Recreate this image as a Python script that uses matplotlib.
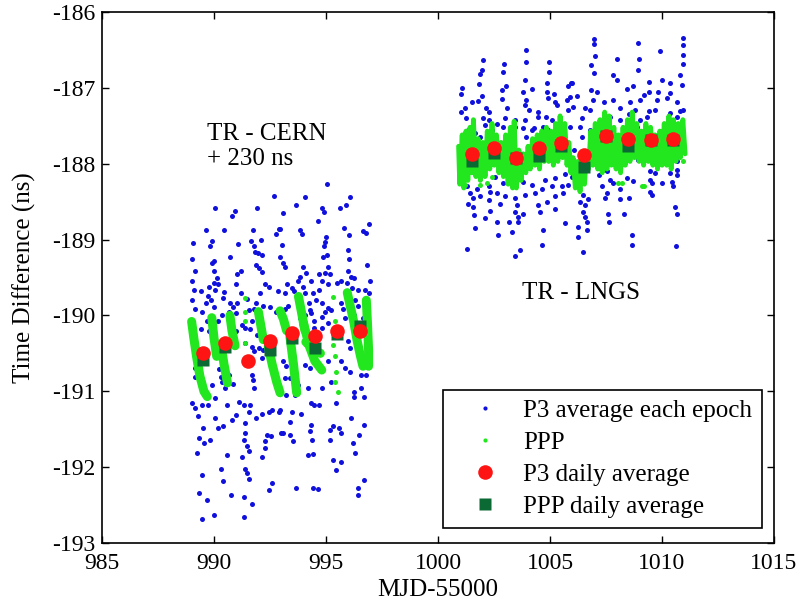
import numpy as np
import matplotlib
matplotlib.use('Agg')
import matplotlib.pyplot as plt
from matplotlib.lines import Line2D

plt.rcParams['font.family'] = ['Liberation Serif', 'DejaVu Serif']
plt.rcParams['axes.unicode_minus'] = False

# ---- P3 average each epoch ----
p3_cern = [
    (992.66, -188.42), (990.06, -188.58), (990.92, -188.63), (990.81, -188.69), (991.93, -188.58),
    (989.65, -188.88), (990.45, -188.88), (989.05, -189.04), (989.91, -189.02), (989.80, -189.08),
    (991.06, -189.06), (991.74, -188.88), (991.65, -189.02), (992.10, -189.01), (992.89, -188.86),
    (992.78, -188.93), (991.79, -189.09), (991.83, -189.16), (991.97, -189.18), (992.12, -189.21),
    (989.02, -189.26), (990.02, -189.28), (989.91, -189.31), (990.71, -189.23), (991.86, -189.33),
    (992.03, -189.38), (992.15, -189.43), (989.99, -189.41), (989.17, -189.42), (991.03, -189.46),
    (991.19, -189.42), (990.13, -189.51), (990.02, -189.57), (989.00, -189.55), (990.20, -189.59),
    (989.77, -189.62), (990.96, -189.59), (992.26, -189.59), (992.47, -189.62), (989.10, -189.66),
    (989.43, -189.68), (990.06, -189.66), (990.45, -189.69), (991.22, -189.70), (989.73, -189.74),
    (989.87, -189.80), (989.65, -189.84), (990.38, -189.77), (991.47, -189.79), (992.05, -189.70),
    (991.86, -189.84), (992.18, -189.87), (989.02, -189.80), (989.17, -189.91), (989.46, -189.96),
    (989.99, -189.89), (990.71, -189.84), (990.84, -189.89), (991.03, -189.84), (990.67, -189.95),
    (990.35, -190.00), (990.96, -189.97), (991.54, -189.93), (991.79, -189.91), (992.51, -189.89),
    (992.75, -189.95), (989.70, -190.08), (989.84, -190.04), (990.20, -190.07), (990.67, -190.08),
    (991.71, -190.08), (991.25, -190.12), (991.39, -190.17), (989.10, -190.21), (991.61, -190.18),
    (991.93, -190.26), (989.40, -190.18), (989.77, -190.21), (990.96, -190.21), (990.81, -190.34),
    (990.06, -190.34), (991.71, -190.41), (991.79, -190.47), (992.12, -190.56), (992.19, -190.45),
    (992.00, -190.43), (991.39, -190.37), (989.17, -190.69), (989.14, -190.81), (990.23, -190.70),
    (990.32, -190.81), (989.60, -190.63), (990.35, -190.88), (990.67, -190.78), (991.71, -190.78),
    (991.74, -190.85), (989.91, -190.92), (990.84, -190.90), (991.79, -190.96), (990.49, -190.96),
    (990.06, -191.09), (991.10, -191.14), (989.00, -191.16), (989.17, -191.22), (989.46, -191.18),
    (989.74, -191.18), (990.57, -191.18), (991.32, -191.18), (991.61, -191.18), (991.54, -191.27),
    (990.96, -191.31), (990.81, -191.38), (992.15, -191.30), (992.47, -191.27), (992.61, -191.25),
    (992.92, -191.27), (989.29, -191.33), (990.06, -191.35), (991.86, -191.35), (989.53, -191.49),
    (990.20, -191.48), (990.42, -191.46), (991.39, -191.42), (991.39, -191.55), (992.37, -191.57),
    (992.55, -191.59), (989.31, -191.61), (989.80, -191.64), (989.56, -191.68), (991.32, -191.64),
    (992.29, -191.66), (992.26, -191.75), (991.47, -191.72), (991.54, -191.79), (989.24, -191.82),
    (990.57, -191.84), (991.25, -191.86), (992.15, -191.86), (992.97, -191.55), (990.32, -192.02),
    (991.39, -192.02), (991.47, -192.08), (989.46, -192.10), (990.42, -192.18), (991.54, -192.16),
    (992.58, -192.21), (992.44, -192.30), (989.31, -192.34), (990.74, -192.37), (991.32, -192.40),
    (989.70, -192.43), (991.71, -192.49), (989.99, -192.63), (989.46, -192.69), (991.32, -192.66),
    (995.06, -188.27), (994.08, -188.44), (996.06, -188.44), (993.66, -188.54), (994.80, -188.58),
    (995.64, -188.58), (995.91, -188.54), (993.06, -188.65), (994.92, -188.64), (994.66, -188.76),
    (992.93, -188.86), (993.83, -188.88), (993.93, -188.93), (995.81, -188.85), (996.01, -188.94),
    (996.64, -188.89), (996.90, -188.79), (996.78, -188.92), (995.02, -188.96), (994.95, -189.03),
    (993.03, -189.07), (994.92, -189.09), (995.98, -189.14), (996.01, -189.25), (995.06, -189.20),
    (994.88, -189.23), (996.84, -189.33), (992.93, -189.23), (993.08, -189.31), (993.18, -189.36),
    (993.98, -189.36), (995.09, -189.36), (994.95, -189.44), (995.17, -189.46), (995.98, -189.42),
    (996.13, -189.49), (994.12, -189.44), (993.83, -189.49), (993.76, -189.54), (993.27, -189.59),
    (993.47, -189.64), (994.34, -189.54), (994.70, -189.46), (994.80, -189.54), (995.67, -189.54),
    (995.50, -189.57), (995.95, -189.57), (996.27, -189.51), (996.95, -189.54), (996.16, -189.64),
    (996.42, -189.66), (996.74, -189.66), (996.90, -189.71), (992.86, -189.68), (993.15, -189.70),
    (993.58, -189.68), (993.98, -189.62), (994.05, -189.70), (994.41, -189.70), (994.70, -189.66),
    (995.09, -189.59), (994.56, -189.80), (994.22, -189.84), (994.80, -189.84), (994.27, -189.93),
    (994.34, -189.97), (994.08, -190.00), (995.09, -189.90), (995.24, -189.93), (994.95, -189.95),
    (994.80, -190.02), (993.29, -189.87), (993.15, -189.91), (992.93, -189.95), (995.67, -189.84),
    (995.75, -189.91), (996.30, -189.80), (996.45, -189.87), (996.78, -189.89), (993.83, -190.04),
    (994.48, -190.08), (995.09, -190.10), (995.84, -190.04), (996.27, -190.00), (996.64, -190.04),
    (994.48, -190.17), (994.80, -190.17), (995.98, -190.34), (996.06, -190.43), (996.87, -190.43),
    (993.08, -190.60), (993.22, -190.67), (994.05, -190.66), (994.27, -190.69), (995.09, -190.60),
    (995.67, -190.60), (995.84, -190.69), (996.06, -190.74), (996.56, -190.78), (996.78, -190.78),
    (993.15, -190.83), (993.41, -190.83), (993.76, -190.92), (994.19, -190.96), (994.80, -190.96),
    (995.24, -190.88), (993.22, -191.05), (993.61, -191.05), (994.34, -191.16), (994.48, -191.18),
    (994.70, -191.18), (995.46, -191.16), (996.27, -191.01), (996.56, -190.96), (996.71, -191.07),
    (996.24, -191.08), (992.93, -191.25), (993.47, -191.27), (993.88, -191.30), (996.13, -191.35),
    (993.37, -191.40), (994.31, -191.45), (995.17, -191.51), (995.31, -191.46), (995.60, -191.48),
    (994.27, -191.53), (993.08, -191.55), (993.37, -191.57), (994.37, -191.64), (993.51, -191.66),
    (995.17, -191.64), (995.67, -191.55), (996.20, -191.68), (996.68, -191.45), (996.49, -191.57),
    (996.30, -191.81), (994.19, -191.84), (994.41, -191.83), (995.31, -191.91), (995.67, -191.93),
    (995.46, -192.04), (996.68, -192.17), (993.66, -192.28), (994.41, -192.27), (994.66, -192.29),
    (996.42, -192.27), (996.42, -192.37),
]

p3_lngs = [
    (1003.95, -186.50), (1002.00, -186.63), (1002.95, -186.68), (1003.95, -186.66), (1004.95, -186.66),
    (1001.97, -186.77), (1001.87, -186.82), (1002.91, -186.79), (1004.95, -186.79), (1001.07, -187.00),
    (1001.82, -186.95), (1003.03, -186.98), (1003.87, -186.90), (1004.85, -186.93), (1005.93, -186.93),
    (1001.04, -187.08), (1004.19, -187.02), (1002.84, -187.03), (1003.80, -187.05), (1004.85, -187.05),
    (1005.17, -187.08), (1005.82, -186.98), (1001.97, -187.11), (1001.77, -187.17), (1001.50, -187.18),
    (1002.84, -187.15), (1003.95, -187.16), (1004.92, -187.14), (1005.24, -187.18), (1005.75, -187.16),
    (1005.89, -187.12), (1001.19, -187.26), (1001.04, -187.32), (1002.14, -187.27), (1002.26, -187.32),
    (1003.08, -187.27), (1003.87, -187.23), (1004.05, -187.29), (1004.48, -187.32), (1004.80, -187.38),
    (1005.31, -187.23), (1005.82, -187.29), (1001.24, -187.40), (1002.00, -187.40), (1002.26, -187.42),
    (1003.00, -187.40), (1003.44, -187.42), (1003.87, -187.42), (1004.45, -187.39), (1005.09, -187.42),
    (1002.09, -187.49), (1002.62, -187.47), (1002.91, -187.51), (1003.44, -187.51), (1004.27, -187.53),
    (1004.70, -187.51), (1005.24, -187.53), (1001.36, -187.55), (1001.65, -187.60), (1001.87, -187.65),
    (1002.43, -187.55), (1003.37, -187.58), (1003.80, -187.53), (1004.19, -187.55), (1004.92, -187.55),
    (1005.89, -187.52), (1001.07, -187.69), (1003.15, -187.65), (1003.95, -187.65), (1004.34, -187.69),
    (1004.85, -187.69), (1005.82, -187.74), (1006.05, -187.82), (1001.00, -187.91), (1001.07, -188.21),
    (1001.29, -188.30), (1001.72, -188.34), (1002.26, -188.30), (1002.55, -188.17), (1002.91, -188.26),
    (1003.29, -188.30), (1003.80, -188.24), (1004.19, -188.28), (1004.77, -188.21), (1005.24, -188.19),
    (1005.67, -188.13), (1005.96, -188.17), (1001.43, -188.39), (1001.58, -188.45), (1001.87, -188.43),
    (1002.33, -188.37), (1002.62, -188.39), (1003.00, -188.43), (1003.44, -188.45), (1003.87, -188.41),
    (1004.34, -188.39), (1004.63, -188.34), (1005.09, -188.30), (1005.53, -188.30), (1005.82, -188.28),
    (1001.36, -188.53), (1001.58, -188.57), (1002.26, -188.48), (1002.77, -188.53), (1003.51, -188.55),
    (1004.48, -188.55), (1004.85, -188.50), (1005.24, -188.43), (1005.60, -188.39), (1001.62, -188.68),
    (1002.33, -188.62), (1003.44, -188.64), (1003.58, -188.70), (1003.80, -188.66), (1004.56, -188.64),
    (1005.24, -188.60), (1002.11, -188.72), (1003.58, -188.77), (1001.65, -188.85), (1002.62, -188.77),
    (1003.18, -188.77), (1004.70, -188.87), (1005.67, -188.78), (1002.67, -188.94), (1003.32, -188.90),
    (1001.30, -189.13), (1003.66, -189.14), (1003.44, -189.22), (1004.66, -189.07),
    (1006.95, -186.35), (1006.95, -186.42), (1010.95, -186.34), (1010.95, -186.44), (1008.94, -186.41),
    (1009.90, -186.51), (1007.03, -186.58), (1006.85, -186.70), (1007.97, -186.62), (1008.98, -186.62),
    (1010.95, -186.57), (1010.95, -186.68), (1006.95, -186.80), (1007.82, -186.83), (1008.94, -186.76),
    (1007.97, -186.90), (1005.96, -186.93), (1009.98, -186.90), (1010.80, -186.83), (1010.37, -186.94),
    (1007.10, -187.05), (1006.85, -187.03), (1008.43, -187.01), (1008.72, -186.98), (1009.44, -186.92),
    (1009.40, -187.05), (1009.18, -187.09), (1009.83, -187.05), (1010.37, -187.07), (1010.88, -186.96),
    (1006.20, -187.11), (1006.03, -187.25), (1006.92, -187.16), (1007.39, -187.18), (1007.82, -187.16),
    (1008.58, -187.18), (1009.01, -187.16), (1009.76, -187.16), (1010.22, -187.14), (1010.66, -187.18),
    (1010.80, -187.31), (1010.95, -187.29), (1006.56, -187.27), (1006.78, -187.29), (1008.14, -187.27),
    (1008.80, -187.29), (1009.40, -187.31), (1009.69, -187.29), (1008.51, -187.35), (1006.42, -187.40),
    (1007.68, -187.38), (1008.14, -187.42), (1009.01, -187.42), (1009.32, -187.38), (1010.37, -187.33),
    (1010.66, -187.38), (1006.34, -187.51), (1006.78, -187.55), (1008.29, -187.53), (1008.87, -187.51),
    (1006.42, -187.65), (1007.68, -187.89), (1008.94, -187.95), (1009.47, -187.91), (1009.76, -187.97),
    (1010.22, -187.99), (1010.66, -187.97), (1009.47, -188.10), (1009.69, -188.12), (1010.37, -188.12),
    (1010.66, -188.08), (1007.53, -188.10), (1007.17, -188.15), (1007.68, -188.21), (1008.43, -188.19),
    (1008.72, -188.23), (1006.20, -188.17), (1009.47, -188.21), (1009.54, -188.26), (1009.98, -188.26),
    (1010.44, -188.24), (1010.66, -188.15), (1007.32, -188.30), (1007.53, -188.39), (1007.82, -188.26),
    (1008.14, -188.34), (1009.47, -188.37), (1009.54, -188.41), (1010.51, -188.30), (1006.49, -188.41),
    (1006.34, -188.50), (1006.56, -188.55), (1006.71, -188.47), (1007.46, -188.45), (1008.14, -188.47),
    (1008.51, -188.45), (1006.49, -188.64), (1006.56, -188.70), (1006.63, -188.77), (1007.61, -188.66),
    (1008.29, -188.66), (1010.59, -188.57), (1010.66, -188.66), (1007.65, -188.77), (1006.27, -188.83),
    (1006.23, -188.96), (1006.63, -188.87), (1008.65, -188.94), (1008.65, -189.07), (1006.46, -189.16),
    (1010.63, -189.09),
]

# ---- PPP (green) ----
ppp_cern_segments = [
    [(989.00, -190.08), (989.10, -190.30), (989.22, -190.54), (989.37, -190.80), (989.55, -191.00), (989.70, -191.07)],
    [(989.90, -190.03), (990.00, -190.30), (990.12, -190.54)],
    [(990.34, -190.45), (990.45, -190.65), (990.60, -190.89)],
    [(990.71, -190.00), (990.80, -190.20), (990.94, -190.40)],
    [(991.98, -189.95), (992.10, -190.15), (992.20, -190.32)],
    [(992.42, -190.41), (992.60, -190.65), (992.80, -190.88), (992.95, -191.02)],
    [(992.95, -189.94), (993.10, -190.05), (993.24, -190.20)],
    [(993.39, -190.28), (993.55, -190.65), (993.69, -191.02)],
    [(993.77, -189.75), (993.90, -189.95), (994.06, -190.20)],
    [(993.99, -190.10), (994.25, -190.40), (994.50, -190.60), (994.81, -190.72)],
    [(994.10, -190.35), (994.45, -190.45), (994.75, -190.50)],
    [(995.95, -189.70), (996.10, -189.90), (996.25, -190.10), (996.40, -190.35), (996.55, -190.55), (996.65, -190.67)],
    [(996.80, -189.80), (996.85, -190.10), (996.90, -190.45), (996.90, -190.67)],
]

ppp_lngs_x = [
    1000.92, 1000.97, 1001.08, 1001.15, 1001.25, 1001.33, 1001.43, 1001.51, 1001.58, 1001.69,
    1001.79, 1001.89, 1002.00, 1002.10, 1002.20, 1002.31, 1002.41, 1002.51, 1002.61, 1002.72,
    1002.82, 1002.92, 1003.02, 1003.13, 1003.23, 1003.33, 1003.40, 1003.50, 1003.61, 1003.71,
    1003.81, 1003.92, 1004.02, 1004.12, 1004.22, 1004.33, 1004.43, 1004.53, 1004.63, 1004.74,
    1004.84, 1004.94, 1005.04, 1005.15, 1005.25, 1005.35, 1005.45, 1005.56, 1005.66, 1005.76,
    1005.84, 1005.93, 1006.03, 1006.13, 1006.23, 1006.34, 1006.44, 1006.54, 1006.61, 1006.72,
    1006.82, 1006.92, 1007.02, 1007.13, 1007.23, 1007.33, 1007.44, 1007.54, 1007.64, 1007.74,
    1007.85, 1007.95, 1008.05, 1008.15, 1008.26, 1008.36, 1008.46, 1008.57, 1008.67, 1008.77,
    1008.87, 1008.98, 1009.08, 1009.18, 1009.28, 1009.39, 1009.49, 1009.59, 1009.69, 1009.80,
    1009.90, 1010.00, 1010.10, 1010.21, 1010.31, 1010.41, 1010.51, 1010.62, 1010.72, 1010.82,
    1010.93, 1011.03,
]
ppp_lngs_y = [
    -187.77, -188.27, -187.62, -188.32, -187.57, -188.22, -187.52, -188.12, -187.42, -188.17,
    -187.67, -188.22, -187.72, -188.17, -187.57, -188.07, -187.47, -188.02, -187.62, -188.12,
    -187.72, -188.17, -187.62, -188.27, -187.52, -188.32, -187.44, -188.32, -187.82, -188.22,
    -187.87, -188.12, -187.77, -188.07, -187.67, -188.02, -187.62, -188.07, -187.57, -187.97,
    -187.52, -187.97, -187.57, -188.02, -187.47, -187.97, -187.37, -187.92, -187.47, -188.02,
    -187.72, -188.12, -187.92, -188.32, -187.97, -188.37, -187.97, -188.27, -187.92, -188.07,
    -187.57, -188.02, -187.47, -188.07, -187.42, -188.12, -187.32, -188.07, -187.37, -188.02,
    -187.52, -188.07, -187.62, -188.12, -187.52, -188.02, -187.42, -187.97, -187.32, -187.92,
    -187.47, -187.97, -187.57, -188.02, -187.47, -187.97, -187.52, -188.02, -187.62, -188.07,
    -187.57, -188.02, -187.47, -188.02, -187.37, -188.07, -187.42, -187.97, -187.47, -187.92,
    -187.42, -187.87,
]

ppp_dots = [
    (991.39, -189.77), (991.39, -189.96), (991.39, -190.08), (991.39, -190.37),
    (995.31, -189.76), (995.38, -190.08), (995.31, -190.39), (995.38, -190.54),
    (995.46, -190.74), (995.38, -190.88), (995.53, -191.01),
    (1001.21, -188.28), (1001.89, -188.28), (1002.18, -188.26), (1002.40, -188.17),
    (1009.10, -188.29), (1008.04, -188.25), (1010.94, -187.97), (1009.18, -188.29),
    (1008.22, -188.25),
]

# ---- daily averages ----
p3_day_x = [989.5, 990.5, 991.5, 992.5, 993.5, 994.5, 995.5, 996.5,
            1001.5, 1002.5, 1003.5, 1004.5, 1005.5, 1006.5, 1007.5, 1008.5, 1009.5, 1010.5]
p3_day_y = [-190.50, -190.37, -190.60, -190.34, -190.23, -190.27, -190.21, -190.20,
            -187.87, -187.79, -187.93, -187.79, -187.73, -187.89, -187.63, -187.67, -187.69, -187.68]

ppp_day_x = [989.5, 990.5, 992.5, 993.5, 994.5, 995.5, 996.5,
             1001.5, 1002.5, 1003.5, 1004.5, 1005.5, 1006.5, 1007.5, 1008.5, 1009.5, 1010.5]
ppp_day_y = [-190.59, -190.41, -190.45, -190.30, -190.43, -190.24, -190.14,
             -187.96, -187.86, -187.92, -187.90, -187.77, -188.05, -187.64, -187.76, -187.69, -187.69]

BLUE = '#1010dc'
GREEN = '#22e61e'
RED = '#ff1414'
DKGREEN = '#0b6934'
FS = 17


def main() -> None:
    fig = plt.figure(figsize=(8.02, 6.06), dpi=100)
    ax = fig.add_axes([0.1272, 0.1040, 0.8379, 0.8762])

    bx, by = np.array(p3_cern + p3_lngs).T
    ax.plot(bx, by, 'o', ms=3.6, color=BLUE, mec='none', zorder=2)

    for seg in ppp_cern_segments:
        sx, sy = np.array(seg).T
        ax.plot(sx, sy, '-', lw=6.5, color=GREEN, solid_capstyle='round',
                solid_joinstyle='round', zorder=3)
    ax.plot(ppp_lngs_x, ppp_lngs_y, '-', lw=3.5, color=GREEN,
            solid_capstyle='round', solid_joinstyle='round', zorder=3)
    gx, gy = np.array(ppp_dots).T
    ax.plot(gx, gy, 'o', ms=3.6, color=GREEN, mec='none', zorder=3)

    ax.plot(ppp_day_x, ppp_day_y, 's', ms=8, color=DKGREEN, mec='none', zorder=4)
    ax.plot(p3_day_x, p3_day_y, 'o', ms=10.5, color=RED, mec='none', zorder=5)

    ax.text(989.69, -187.77, 'TR - CERN\n+ 230 ns', fontsize=18, ha='left',
            va='center', linespacing=1.15)
    ax.text(1003.75, -189.70, 'TR - LNGS', fontsize=18, ha='left', va='center')

    ax.set_xlim(985, 1015)
    ax.set_ylim(-193, -186)
    ax.set_xticks(np.arange(985, 1016, 5))
    ax.set_yticks(np.arange(-193, -185, 1))
    ax.tick_params(direction='in', top=True, right=True, length=5, width=1,
                   labelsize=FS)
    ax.tick_params(axis='x', pad=7)
    ax.tick_params(axis='y', pad=5)
    for sp in ax.spines.values():
        sp.set_linewidth(1.2)
    ax.set_xlabel('MJD-55000', fontsize=18, labelpad=4)
    ax.set_ylabel('Time Difference (ns)', fontsize=18, labelpad=11)

    handles = [
        Line2D([], [], ls='none', marker='o', ms=3, color=BLUE, mec='none'),
        Line2D([], [], ls='none', marker='o', ms=3, color=GREEN, mec='none'),
        Line2D([], [], ls='none', marker='o', ms=10.5, color=RED, mec='none'),
        Line2D([], [], ls='none', marker='s', ms=8, color=DKGREEN, mec='none'),
    ]
    labels = ['P3 average each epoch', 'PPP', 'P3 daily average', 'PPP daily average']
    leg = ax.legend(handles, labels, loc='lower right', bbox_to_anchor=(0.982, 0.028),
                    fontsize=18, frameon=True, fancybox=False, edgecolor='black',
                    framealpha=1, borderpad=0.4, handlelength=2.6, handletextpad=0.2,
                    labelspacing=0.38, borderaxespad=0)
    leg.get_frame().set_linewidth(1.2)

    fig.savefig('out.png', dpi=100)


if __name__ == "__main__":
    main()
